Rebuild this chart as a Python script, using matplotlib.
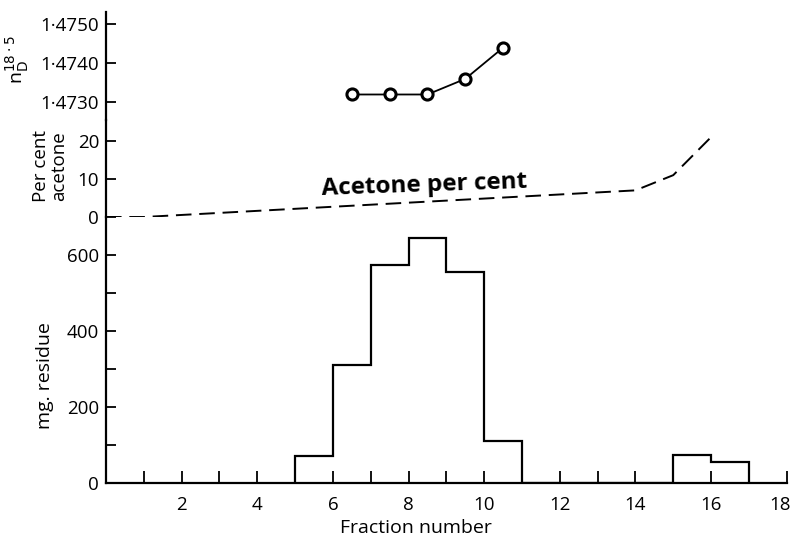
import numpy as np
import matplotlib.pyplot as plt
from matplotlib.transforms import ScaledTranslation

plt.rcParams['font.family'] = ['Open Sans', 'DejaVu Sans']

# mg. residue per fraction (bins between edges)
edges = [5, 6, 7, 8, 9, 10, 11, 12, 13, 14, 15, 16, 17]
residue = [70, 310, 575, 645, 555, 110, 0, 0, 0, 0, 75, 55]

# per cent acetone in the eluent
acetone_x = [0, 1, 14, 15, 16]
acetone_y = [0, 0, 7, 11, 21]

# refractive index of residue
ri_x = [6.5, 7.5, 8.5, 9.5, 10.5]
ri_y = [1.4732, 1.4732, 1.4732, 1.4736, 1.4744]

W, H = 793, 539
fig = plt.figure(figsize=(W / 100, H / 100), dpi=100)

left = 106.0 / W
width = (786.7 - 106.0) / W

def box(top_px, bot_px):
    return [left, 1 - bot_px / H, width, (bot_px - top_px) / H]

ax_h = fig.add_axes(box(217, 483))
ax_a = fig.add_axes(box(120, 217), sharex=ax_h)
ax_r = fig.add_axes(box(12, 120), sharex=ax_h)

for ax in (ax_h, ax_a, ax_r):
    for s in ('top', 'right'):
        ax.spines[s].set_visible(False)
    ax.spines['left'].set_linewidth(1.6)
    ax.patch.set_alpha(0)
    ax.tick_params(axis='y', direction='in', length=7, width=1.3,
                   labelsize=13.5, pad=5)
    ax.tick_params(axis='y', which='minor', direction='in', length=7, width=1.3)
for ax in (ax_a, ax_r):
    ax.spines['bottom'].set_visible(False)
    ax.tick_params(axis='x', which='both', bottom=False, labelbottom=False)

# histogram of residue
ax_h.stairs(residue, edges, baseline=0, color='black', linewidth=1.6)
ax_h.set_xlim(0, 18.0)
ax_h.set_ylim(0, 700)
ax_h.set_yticks([0, 200, 400, 600])
ax_h.set_yticks([100, 300, 500], minor=True)
ax_h.set_xticks(np.arange(2, 19, 2))
ax_h.set_xticks(np.arange(1, 18, 2), minor=True)
ax_h.tick_params(axis='x', which='both', direction='in', length=9, width=1.3,
                 labelsize=13.5, pad=9)
ax_h.spines['bottom'].set_linewidth(1.6)
# the last label sits a little left of its tick, as in the print
last = ax_h.get_xticklabels()[-1]
last.set_transform(last.get_transform()
                   + ScaledTranslation(-0.07, 0, fig.dpi_scale_trans))
fig.text(416 / W, 1 - 528 / H, 'Fraction number', fontsize=14,
         ha='center', va='center')

# acetone gradient
ax_a.plot(acetone_x, acetone_y, color='black', linewidth=1.4,
          linestyle=(0, (8, 4)))
ax_a.set_ylim(0, 25.5)
ax_a.set_yticks([0, 10, 20])
ax_a.text(8.41, 8.2, 'Acetone per cent', fontsize=17.5, fontweight='bold',
          ha='center', va='center', rotation=2)

# refractive index
ax_r.plot(ri_x, ri_y, color='black', linewidth=1.3, marker='o',
          markersize=8, markerfacecolor='white', markeredgewidth=2.2)
ax_r.set_ylim(1.472546, 1.475315)
ax_r.set_yticks([1.4730, 1.4740, 1.4750])
ax_r.set_yticklabels(['1·4730', '1·4740', '1·4750'])

# axis titles
fig.text(17 / W, 1 - 60 / H, r'n$_{\mathrm{D}}^{18\cdot5}$', rotation=90,
         fontsize=14, ha='center', va='center')
fig.text(50 / W, 1 - 166 / H, 'Per cent\nacetone', rotation=90,
         fontsize=13.5, ha='center', va='center', linespacing=0.95)
fig.text(45 / W, 1 - 376 / H, 'mg. residue', rotation=90,
         fontsize=14, ha='center', va='center')

fig.savefig('out.png', dpi=100)
